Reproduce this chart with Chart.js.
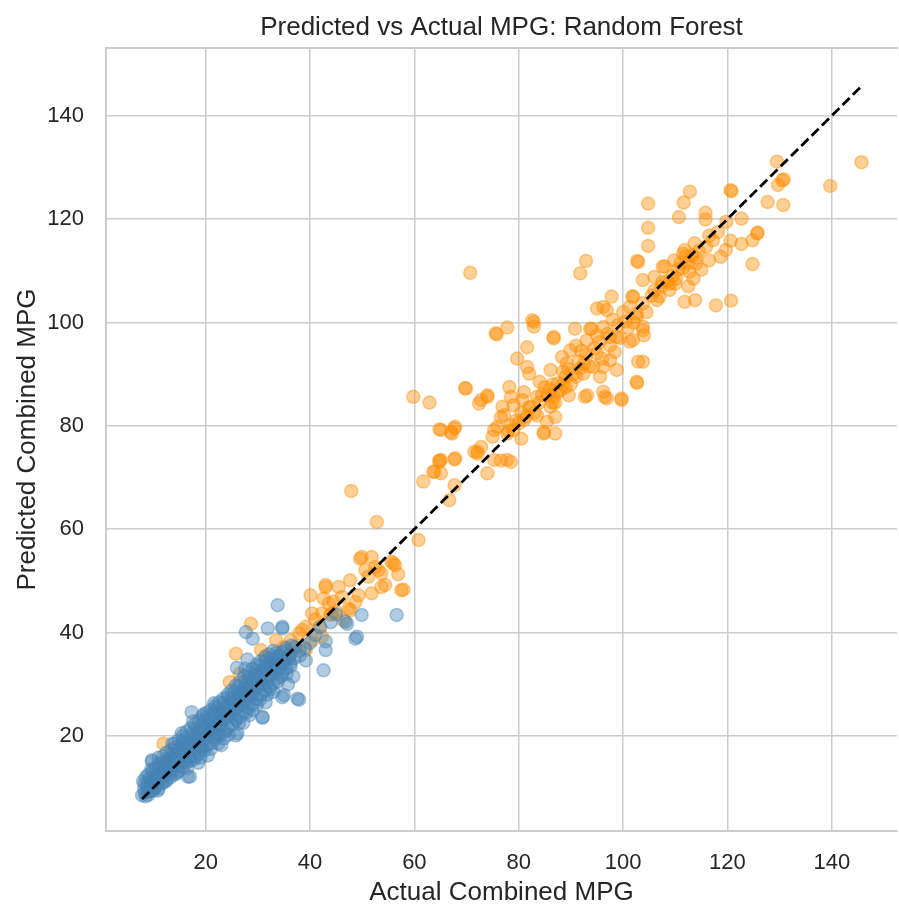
<!DOCTYPE html>
<html>
<head>
<meta charset="utf-8">
<title>Predicted vs Actual MPG</title>
<script src="https://cdn.jsdelivr.net/npm/chart.js@4.4.1/dist/chart.umd.min.js"></script>
<style>
  html, body { margin: 0; padding: 0; background: #fff; overflow: hidden; }
  #wrap { width: 905px; height: 905px; }
</style>
</head>
<body>
<div id="wrap"><canvas id="chart" width="905" height="905"></canvas></div>
<script>
// values: [actual, predicted]
const evPoints = [
  [145.7,131.0],[139.7,126.4],[129.5,131.1],[130.8,127.7],[129.7,126.6],[127.7,123.3],[130.7,122.7],
  [120.8,125.4],[112.8,125.3],[111.6,123.2],[104.8,123.0],[110.7,120.4],[115.8,121.2],[115.8,119.9],
  [119.8,119.5],[122.7,120.1],[104.8,118.3],[104.8,114.8],[125.8,117.4],[124.8,115.9],[122.7,115.2],
  [120.6,115.8],[118.7,112.7],[119.7,114.0],[124.8,111.3],[102.7,111.9],[111.8,114.0],[112.0,112.8],
  [113.7,115.3],[115.9,114.6],[117.2,115.9],[114.0,111.4],[112.7,109.8],[110.2,108.5],[108.0,110.8],
  [106.0,108.8],[103.8,108.2],[107.3,106.9],[108.9,106.3],[111.8,104.0],[113.8,104.3],[117.8,103.3],
  [120.7,104.2],[101.9,105.0],[97.8,105.0],[96.2,103.0],[101.3,103.0],[103.8,103.7],[102.6,101.1],
  [103.8,98.5],[101.3,96.3],[97.5,97.2],[96.2,99.1],[110.5,110.2],[109.5,109.0],[111.0,111.5],
  [113.2,113.0],[114.5,113.8],[116.5,116.8],[118.2,117.5],[107.5,107.8],[105.5,105.2],[106.5,104.3],
  [109.8,112.0],[112.5,107.0],[113.5,108.5],[115.0,110.2],[116.5,112.0],[130.5,127.5],[120.6,125.6],
  [125.7,117.2],[107.6,110.8],[111.5,113.3],[108.9,107.5],[102.9,111.7],[106.0,106.2],[107.0,105.0],
  [108.5,108.0],[110.0,107.5],[111.5,110.5],[112.5,111.5],[114.0,112.5],[104.5,102.0]
];
const evMidPoints = [
  [70.7,109.6],[92.9,111.9],[91.8,109.5],[95.0,102.7],[96.9,102.4],[101.8,105.0],[102.6,101.7],
  [103.8,99.2],[104.0,97.5],[103.8,92.4],[102.7,88.3],[99.7,85.0],[101.9,96.6],[98.8,97.2],
  [93.7,98.8],[90.8,98.8],[86.7,96.9],[82.9,100.1],[82.9,99.2],[77.8,99.0],[75.8,97.7],[81.6,95.2],
  [79.7,93.0],[81.6,91.4],[82.0,90.1],[88.3,93.3],[89.9,94.6],[89.2,92.1],[86.1,90.8],[91.8,91.1],
  [94.3,91.4],[96.2,91.4],[97.5,92.7],[98.4,94.3],[98.8,90.8],[95.6,89.5],[92.4,90.1],[93.1,85.9],
  [96.2,86.6],[96.9,85.3],[89.6,85.9],[88.0,86.9],[86.7,85.6],[86.1,83.7],[87.0,81.7],[83.5,85.6],
  [82.3,83.7],[80.7,85.0],[78.2,87.5],[78.5,85.6],[76.9,83.7],[77.2,82.1],[75.9,79.8],[78.5,80.1],
  [77.8,78.5],[74.0,85.9],[72.4,84.3],[69.9,87.2],[85.4,80.8],[84.8,78.5],[81.0,81.1],[75.0,77.9],
  [72.8,75.9],[67.7,79.5],[65.1,79.2],[67.7,73.5],[72.1,74.6],[75.3,73.4],[77.8,73.4],[65.1,73.4],
  [84.0,84.5],[85.5,86.0],[87.5,88.2],[89.0,89.5],[90.5,90.0],[91.5,92.5],[93.0,93.8],[94.5,95.0],
  [95.5,96.2],[97.0,97.8],[99.0,99.5],[100.5,100.2],[83.0,82.5],[81.5,81.8],[80.0,80.5],[79.0,79.2],
  [80.5,77.5],[86.5,88.0],[88.5,90.5],[90.0,88.0],[92.0,94.5],[85.0,87.5],[87.0,84.5],[100.0,102.0],
  [98.0,100.5],[59.8,85.6],[62.9,84.5],[69.7,87.3],[64.8,79.3],[67.8,79.8],[67.2,78.5],[67.8,73.7],
  [64.8,73.3],[63.6,71.1],[61.7,69.2],[65.1,70.8],[67.7,68.5],[66.7,65.6],[47.9,67.4],[52.8,61.4],
  [60.8,57.9],[72.8,85.0],[74.0,85.6],[75.6,97.9],[82.6,100.4],[86.7,97.2],[94.0,98.8],[102.9,92.4],
  [102.6,88.5],[99.7,85.3],[96.5,85.6],[92.7,85.6],[84.8,78.8],[87.0,78.5],[78.5,73.0],[76.6,73.3],
  [74.0,70.8],[72.1,75.0],[75.3,79.2],[76.6,81.7],[63.9,71.1],[64.8,73.0],[71.5,75.0],[67.0,78.8],
  [78.0,79.0],[79.5,81.0],[80.5,82.5],[82.0,83.5],[83.5,82.0],[84.5,86.0],[86.0,87.0],[87.5,86.5],
  [88.5,88.0],[89.5,91.0],[91.0,89.5],[92.5,92.0],[93.5,91.5],[95.0,94.0],[96.0,93.0],[97.5,95.5],
  [99.5,97.0],[101.0,99.0],[102.0,100.0],[86.5,84.5],[89.0,87.5],[91.0,95.5],[93.0,96.5],[95.0,97.5],
  [84.0,88.5],[81.0,86.5],[79.0,84.0]
];
const evLowPoints = [
  [49.6,54.3],[51.8,54.6],[56.0,53.4],[56.9,51.3],[57.9,48.3],[53.7,48.8],[53.1,52.1],[51.2,50.8],
  [47.7,50.1],[45.5,48.8],[43.0,49.2],[40.1,47.2],[42.6,46.6],[49.3,47.2],[47.7,44.3],[46.4,42.4],
  [43.9,43.4],[43.0,48.8],[50.6,52.1],[53.7,51.4],[54.4,49.2],[51.8,47.6],[48.7,45.9],[46.1,46.9],
  [43.6,45.6],[42.3,43.7],[40.4,43.7],[39.2,41.1],[41.7,41.1],[37.9,39.8],[40.4,38.5],[42.3,39.2],
  [37.3,37.2],[36.3,38.5],[39.2,36.6],[44.2,43.7],[47.4,44.6],[57.5,48.2],[56.3,53.0],[55.6,53.7],
  [52.5,52.7],[28.7,41.7],[30.6,36.6],[25.8,35.9],[24.6,30.4],[11.9,18.5],[27.0,28.0],[29.0,30.5],
  [32.0,33.0],[34.0,35.0],[35.0,37.2],[36.0,35.5],[38.5,40.5],[41.0,42.5],[44.5,46.0],[45.0,44.0],
  [33.5,38.5],[31.5,35.5],[22.0,25.0],[26.5,32.0],[49.9,54.6]
];
const gasPoints = [
  [7.8,8.5],[8.2,9.8],[8.5,8.3],[8.8,10.5],[9.0,9.2],[9.2,11.8],[8.5,12.0],[8.0,11.2],
  [10.0,9.5],[10.2,11.0],[10.5,12.5],[9.8,13.2],[10.3,10.2],[10.8,9.4],[9.7,15.3],[9.7,15.0],
  [11.0,11.5],[11.3,13.0],[11.6,10.8],[12.0,12.2],[12.1,14.5],[11.8,16.0],[12.4,11.2],[12.2,13.8],
  [13.0,12.5],[13.2,14.8],[13.5,16.5],[13.8,13.2],[14.0,15.5],[14.2,17.8],[14.5,12.8],[13.6,18.5],
  [15.0,14.2],[15.2,16.0],[15.5,18.2],[15.8,15.0],[16.0,17.0],[16.2,19.5],[16.5,13.8],[16.6,12.1],
  [15.4,20.5],[17.0,12.1],[17.0,16.0],[17.2,18.5],[17.3,24.6],[17.5,20.5],[17.8,15.5],[18.0,17.5],
  [18.2,21.5],[18.5,19.0],[18.6,14.8],[17.6,22.8],[19.0,18.0],[19.2,20.5],[19.5,22.8],[19.8,17.2],
  [20.0,19.5],[20.2,23.5],[20.5,21.0],[20.4,16.2],[19.6,24.2],[21.0,20.0],[21.2,22.5],[21.5,24.5],
  [21.8,19.3],[22.0,21.5],[22.2,25.5],[22.5,23.0],[22.4,18.5],[21.6,26.3],[23.0,22.0],[23.0,18.2],
  [23.2,24.5],[23.5,26.5],[23.8,21.0],[24.0,23.5],[24.2,27.5],[24.5,25.0],[24.4,20.2],[25.0,24.0],
  [25.2,26.5],[25.5,28.5],[25.8,20.1],[26.1,20.5],[25.8,23.0],[26.0,25.5],[26.2,29.5],[26.5,27.0],
  [26.4,22.5],[27.0,26.0],[27.2,28.5],[27.5,30.5],[27.8,24.5],[28.0,27.5],[28.2,31.5],[28.5,29.0],
  [28.4,24.0],[27.6,33.0],[29.0,28.0],[29.2,30.5],[29.5,32.5],[29.8,26.0],[30.0,29.5],[30.2,33.5],
  [30.5,31.0],[30.4,27.0],[30.9,23.5],[30.9,23.7],[31.0,30.0],[31.2,32.5],[31.5,34.5],[31.8,28.0],
  [32.0,31.0],[32.2,35.0],[32.5,33.0],[32.4,29.0],[31.9,40.8],[33.0,32.0],[33.2,34.0],[33.5,36.0],
  [33.8,30.5],[34.0,33.0],[34.2,35.5],[34.5,31.5],[34.7,27.5],[33.8,45.3],[34.7,41.1],[34.7,40.8],
  [35.0,34.0],[35.3,36.5],[35.5,32.0],[35.0,27.9],[36.0,35.0],[36.3,33.5],[36.5,37.5],[37.6,27.2],
  [37.9,27.0],[38.0,36.5],[39.2,34.6],[40.0,38.0],[41.0,39.5],[42.6,32.7],[43.0,36.6],[43.0,38.3],
  [42.0,41.0],[44.0,42.0],[45.0,43.5],[46.8,42.1],[47.1,41.7],[48.7,38.8],[49.0,39.2],[49.9,43.4],
  [56.6,43.4],[27.7,40.1],[29.0,38.8],[28.0,34.8],[26.0,33.2],[14.8,16.5],[16.8,18.2],[18.8,20.2],
  [20.8,22.0],[22.8,24.2],[24.8,26.2],[26.8,28.0],[28.8,30.0],[30.8,32.2],[32.8,34.2],[12.8,14.0],
  [10.8,12.4],[9.5,10.5],[19.0,15.8],[21.0,17.5],[23.5,19.5],[27.2,22.5],[29.0,25.0],[31.5,26.5],
  [33.0,28.5],[36.8,31.5],[35.8,30.0]
];
const gasCorePoints = [
  [8.3,9.0],[8.3,10.8],[9.0,8.6],[9.0,10.0],[9.0,12.5],[9.6,9.4],[9.6,11.2],[9.6,13.5],
  [10.4,10.0],[10.4,11.8],[10.4,13.8],[11.0,9.8],[11.0,12.5],[11.0,14.5],[11.0,15.8],[11.8,11.0],
  [11.8,13.0],[11.8,15.0],[12.5,11.5],[12.5,12.8],[12.5,15.2],[12.5,16.8],[13.3,12.0],[13.3,13.8],
  [13.3,15.8],[13.3,17.2],[14.0,12.5],[14.0,14.2],[14.0,16.2],[14.0,18.5],[14.8,13.2],[14.8,15.2],
  [14.8,17.5],[14.8,19.2],[15.6,14.0],[15.6,16.5],[15.6,18.8],[15.6,20.0],[16.3,14.8],[16.3,16.2],
  [16.3,18.0],[16.3,20.8],[17.1,15.2],[17.1,17.2],[17.1,19.2],[17.1,21.5],[17.9,16.0],[17.9,18.2],
  [17.9,20.0],[17.9,22.2],[18.7,16.5],[18.7,18.0],[18.7,20.8],[18.7,23.0],[19.4,17.5],[19.4,19.2],
  [19.4,21.5],[19.4,23.8],[20.2,18.2],[20.2,20.2],[20.2,22.2],[20.2,24.5],[21.0,18.5],[21.0,20.8],
  [21.0,23.2],[21.0,25.0],[21.8,19.8],[21.8,21.8],[21.8,24.0],[21.8,25.8],[22.6,20.2],[22.6,22.2],
  [22.6,24.5],[22.6,26.5],[23.4,20.8],[23.4,23.0],[23.4,25.2],[23.4,27.2],[24.2,21.8],[24.2,24.0],
  [24.2,26.0],[24.2,28.0],[25.0,22.2],[25.0,24.8],[25.0,27.2],[25.0,28.8],[25.8,23.2],[25.8,25.2],
  [25.8,27.8],[25.8,29.8],[26.6,23.8],[26.6,26.2],[26.6,28.5],[26.6,30.5],[27.4,24.8],[27.4,27.0],
  [27.4,29.2],[27.4,31.5],[28.2,25.5],[28.2,27.8],[28.2,30.2],[28.2,32.2],[29.0,26.2],[29.0,28.5],
  [29.0,31.0],[29.0,33.0],[29.8,27.2],[29.8,29.5],[29.8,31.8],[29.8,33.8],[30.6,28.0],[30.6,30.2],
  [30.6,32.5],[30.6,34.5],[31.4,28.8],[31.4,31.0],[31.4,33.2],[31.4,35.2],[32.2,29.5],[32.2,31.8],
  [32.2,34.0],[32.2,35.8],[33.0,30.2],[33.0,32.8],[33.0,34.8],[33.0,36.5],[33.8,31.2],[33.8,33.5],
  [33.8,35.5],[34.6,32.0],[34.6,34.2],[34.6,36.2],[35.4,33.0],[35.4,35.0],[35.4,37.0],[36.2,34.0],
  [36.2,36.0],[37.0,35.0],[37.0,37.2],[38.0,35.5],[39.0,37.0]
];
const lineEnds = [7.8, 145.6];
const xTicks = [20, 40, 60, 80, 100, 120, 140];
const yTicks = [20, 40, 60, 80, 100, 120, 140];

const FONT = "'Liberation Sans', Arial, Helvetica, sans-serif";
const TEXT = '#262626';
const GRID = '#cccccc';

const toXY = pts => pts.map(p => ({ x: p[0], y: p[1] }));
const evAll = [...evPoints, ...evMidPoints, ...evLowPoints];
const gasAll = [...gasPoints, ...gasCorePoints];

const pointStyle = (rgb) => ({
  type: 'scatter',
  pointRadius: 6.5,
  pointHoverRadius: 6.5,
  borderWidth: 1.5,
  backgroundColor: `rgba(${rgb},0.42)`,
  borderColor: `rgba(${rgb},0.42)`
});

new Chart(document.getElementById('chart').getContext('2d'), {
  type: 'scatter',
  data: {
    datasets: [
      {
        type: 'line',
        data: lineEnds.map(v => ({ x: v, y: v })),
        borderColor: '#000000',
        borderWidth: 2.8,
        borderDash: [10, 4.5],
        pointRadius: 0,
        fill: false,
        order: 0
      },
      { ...pointStyle('70,130,180'), data: toXY(gasAll), order: 1 },
      { ...pointStyle('255,140,0'), data: toXY(evAll), order: 2 }
    ]
  },
  options: {
    responsive: false,
    animation: false,
    layout: { padding: { left: 0, right: 2.5, top: 0, bottom: 0 } },
    plugins: {
      legend: { display: false },
      tooltip: { enabled: false },
      title: { display: false }
    },
    scales: {
      x: {
        type: 'linear',
        min: 0.9,
        max: 152.5,
        afterBuildTicks: s => { s.ticks = xTicks.map(v => ({ value: v })); },
        afterFit: s => { s.height = 74; },
        grid: { color: GRID, lineWidth: 1.5, drawTicks: false },
        border: { color: GRID, width: 2 },
        ticks: { color: TEXT, padding: 19, font: { family: FONT, size: 22 } },
        title: {
          display: true,
          text: 'Actual Combined MPG',
          color: TEXT,
          font: { family: FONT, size: 26 },
          padding: { top: 0, bottom: -3.6 }
        }
      },
      // top spine, also carries the chart title centred over the plot
      xTop: {
        type: 'linear',
        position: 'top',
        min: 0.9,
        max: 152.5,
        afterFit: s => { s.height = 48; },
        grid: { display: false },
        ticks: { display: false },
        border: { color: GRID, width: 2 },
        title: {
          display: true,
          text: 'Predicted vs Actual MPG: Random Forest',
          color: TEXT,
          font: { family: FONT, size: 26 },
          padding: { top: 12.5, bottom: 0 }
        }
      },
      y: {
        type: 'linear',
        min: 1.6,
        max: 153.1,
        afterBuildTicks: s => { s.ticks = yTicks.map(v => ({ value: v })); },
        afterFit: s => { s.width = 106; },
        grid: { color: GRID, lineWidth: 1.5, drawTicks: false },
        border: { color: GRID, width: 2 },
        ticks: { color: TEXT, padding: 22, font: { family: FONT, size: 22 } },
        title: {
          display: true,
          text: 'Predicted Combined MPG',
          color: TEXT,
          font: { family: FONT, size: 26 },
          padding: { top: 12, bottom: 0 }
        }
      }
    }
  }
});
</script>
</body>
</html>
